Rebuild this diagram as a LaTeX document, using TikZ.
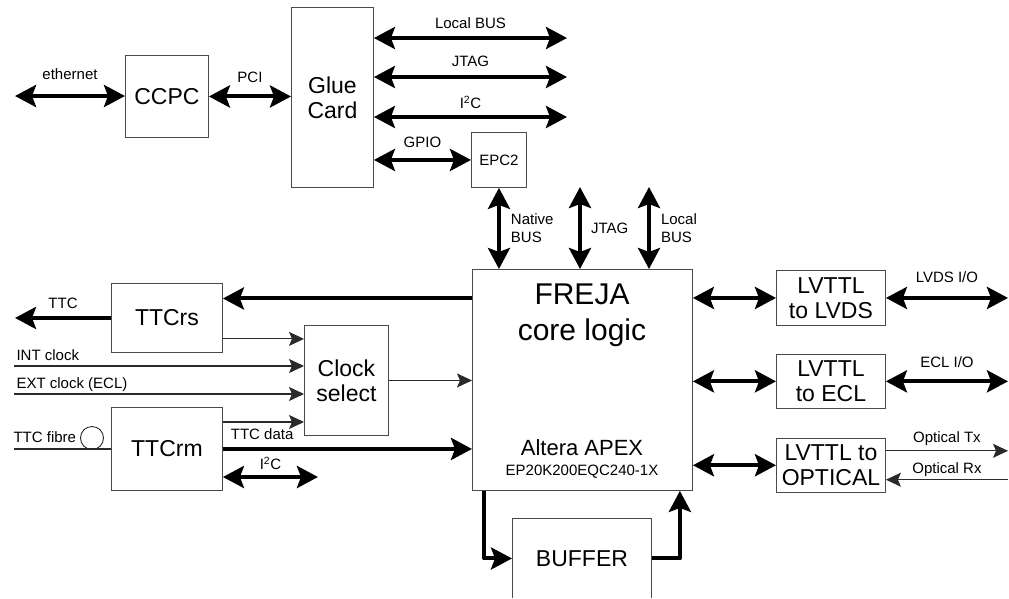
\documentclass[tikz,border=0pt]{standalone}
\usepackage{fontspec}
\setmainfont{Liberation Sans}
\usetikzlibrary{positioning,arrows.meta}
\definecolor{boxline}{HTML}{4A4A4A}
\definecolor{wire}{HTML}{2A2A2A}
\newcommand{\lblfont}{\fontsize{15}{18}\selectfont}
\newcommand{\boxfont}{\fontsize{23}{25}\selectfont}
\newcommand{\corefont}{\fontsize{30}{36}\selectfont}
\newcommand{\apexfont}{\fontsize{22}{24}\selectfont}

\begin{document}
\begin{tikzpicture}[
  x=1pt, y=-1pt,
  font=\lblfont, inner sep=2pt,
  box/.style={draw=boxline, line width=0.9pt, fill=white, inner sep=0pt, align=center, anchor=north west, font=\boxfont},
  bus/.style={{Stealth[length=21pt 0 0,width=22pt 0,inset=4pt 0]}-{Stealth[length=21pt 0 0,width=22pt 0,inset=4pt 0]}, line width=4pt},
  onebus/.style={-{Stealth[length=21pt 0 0,width=22pt 0,inset=4pt 0]}, line width=4pt},
  sig/.style={-{Stealth[length=15pt 0 0,width=14pt 0,inset=3pt 0]}, draw=wire, line width=1.1pt},
  wireline/.style={draw=wire, line width=1.1pt},
]
\useasboundingbox (0,0) rectangle (1009,598);
\clip (0,0) rectangle (1009,597.2);

% host side
\node[box, minimum width=83pt, minimum height=82pt] (ccpc) at (125,55) {CCPC};
\node[box, minimum width=82pt, minimum height=180pt] (glue) at (291,7) {Glue\\Card};
\node[box, minimum width=55pt, minimum height=55pt, font=\lblfont] (epc) at (471,132) {EPC2};

\coordinate (ethL) at (15,96);
\coordinate (lbusR) at (567,38);
\coordinate (jtagR) at (567,77);
\coordinate (i2cR) at (567,117);

\draw[bus] (ethL) -- (ethL -| ccpc.west) node[midway, above=12pt] {ethernet};
\draw[bus] (ccpc.east) -- (ccpc.east -| glue.west) node[midway, above=10pt] {PCI};
\draw[bus] (glue.east |- lbusR) -- (lbusR) node[midway, above=5pt] {Local BUS};
\draw[bus] (glue.east |- jtagR) -- (jtagR) node[midway, above=6pt] {JTAG};
\draw[bus] (glue.east |- i2cR) -- (i2cR) node[midway, above=4pt] {I\textsuperscript{2}C};
\draw[bus] (glue.east |- epc.west) -- (epc.west) node[midway, above=8pt] {GPIO};

% FPGA
\node[box, minimum width=220pt, minimum height=221pt] (freja) at (472,269) {};
\node[font=\corefont, align=center] (coretxt) at (582,315) {FREJA\\core logic};
\node[font=\apexfont] (apex) at (582,448) {Altera APEX};
\node (apexpart) at (582,472) {EP20K200EQC240-1X};

\coordinate (jtagT) at (580,187);
\coordinate (lbusT) at (649,187);
\draw[bus] (epc.south) -- (epc.south |- freja.north) node[midway, right=8pt, align=left] {Native\\BUS};
\draw[bus] (jtagT) -- (jtagT |- freja.north) node[midway, right=7pt] {JTAG};
\draw[bus] (lbusT) -- (lbusT |- freja.north) node[midway, right=8pt, align=left] {Local\\BUS};

% timing and clock
\node[box, minimum width=111pt, minimum height=69pt] (ttcrs) at (111,283) {TTCrs};
\node[box, minimum width=111pt, minimum height=83pt] (ttcrm) at (111,407) {TTCrm};
\node[box, minimum width=84pt, minimum height=110pt] (clk) at (304,325) {Clock\\select};
\node[draw=wire, line width=0.9pt, circle, minimum size=23pt, inner sep=0pt] (fibre) at (92,438) {};

\coordinate (fttc) at ([yshift=19.5pt]ttcrs.east -| freja.west);
\coordinate (ttcL) at (15,318);
\coordinate (intclk) at (14,366);
\coordinate (extclk) at (14,394);
\coordinate (fibreL) at (14,449);
\coordinate (rmi2cR) at (318,477);

\draw[onebus] (fttc) -- (fttc -| ttcrs.east);
\draw[onebus] (ttcrs.west) -- (ttcrs.west -| ttcL) node[midway, above=5pt] {TTC};
\draw[sig] ([yshift=14pt]ttcrs.south east) coordinate (rsclk) -- (rsclk -| clk.west);
\draw[sig] (intclk) -- (intclk -| clk.west) node[pos=0, anchor=south west, yshift=3pt] {INT clock};
\draw[sig] (extclk) -- (extclk -| clk.west) node[pos=0, anchor=south west, yshift=0pt] {EXT clock (ECL)};
\draw[sig] ([yshift=-15pt]ttcrm.north east) coordinate (rmclk) -- (rmclk -| clk.west);
\draw[sig] (clk.east) -- (clk.east -| freja.west);
\draw[onebus] (ttcrm.east) -- (ttcrm.east -| freja.west) node[pos=0, anchor=south west, xshift=4pt, yshift=5pt] {TTC data};
\draw[bus] (rmi2cR -| ttcrm.east) -- (rmi2cR) node[midway, above=3pt] {I\textsuperscript{2}C};
\draw[wireline] (fibreL) -- (fibreL -| ttcrm.west) node[pos=0, anchor=south west, xshift=-3pt, yshift=4pt] {TTC fibre};

% level translators
\node[box, minimum width=109pt, minimum height=55pt] (lvds) at (776,270) {LVTTL\\to LVDS};
\node[box, minimum width=109pt, minimum height=54pt, below=28pt of lvds.south west, anchor=north west] (ecl) {LVTTL\\to ECL};
\node[box, minimum width=109pt, minimum height=54pt, below=29pt of ecl.south west, anchor=north west] (opt) {LVTTL to\\OPTICAL};

\coordinate (rightR) at (1008,0);
\coordinate (orx) at ([yshift=13pt]opt.south east);

\draw[bus] (freja.east |- lvds.west) -- (lvds.west);
\draw[bus] (freja.east |- ecl.west) -- (ecl.west);
\draw[bus] (freja.east |- opt.west) -- (opt.west);
\draw[bus] (lvds.east) -- (lvds.east -| rightR) node[midway, above=11pt] {LVDS I/O};
\draw[bus] (ecl.east) -- (ecl.east -| rightR) node[midway, above=10pt] {ECL I/O};
\draw[sig] ([yshift=-13pt]opt.north east) coordinate (otx) -- (otx -| rightR) node[midway, above=3pt] {Optical Tx};
\draw[sig] (orx -| rightR) -- (orx) node[midway, above=1pt] {Optical Rx};

% buffer loop
\node[box, minimum width=139pt, minimum height=80pt] (buf) at (512,518) {BUFFER};
\draw[onebus, line join=round] ([xshift=12pt]freja.south west) |- (buf.west);
\draw[onebus, line join=round] (buf.east) -| ([xshift=-13pt]freja.south east);

\end{tikzpicture}
\end{document}
